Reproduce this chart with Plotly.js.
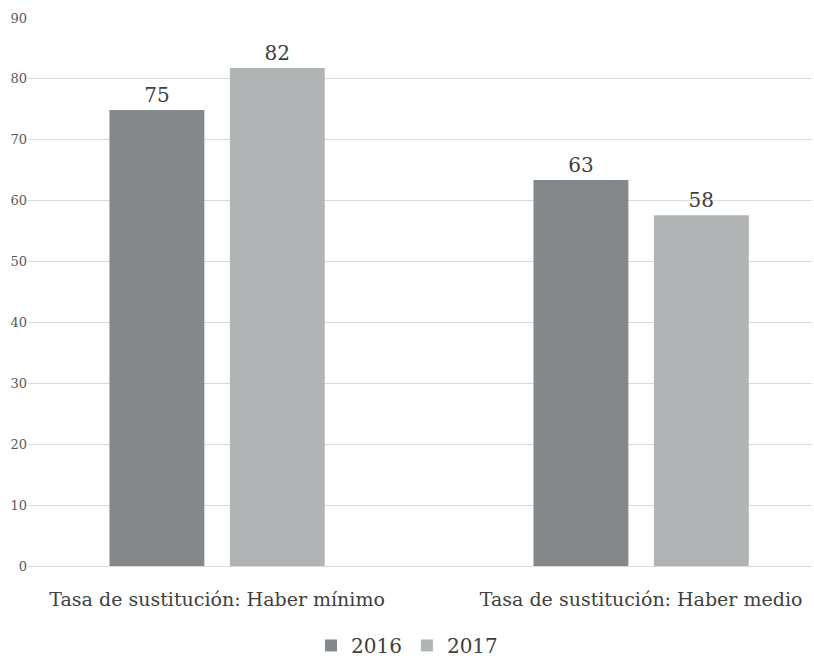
<!DOCTYPE html>
<html>
<head>
<meta charset="utf-8">
<script src="https://cdn.plot.ly/plotly-3.0.1.min.js"></script>
<style>html,body{margin:0;padding:0;background:#fff;}#chart{width:814px;height:661px;}</style>
</head>
<body>
<div id="chart"></div>
<script>
const categories = ["Tasa de sustitución: Haber mínimo", "Tasa de sustitución: Haber medio"];
const values2016 = [74.9, 63.4];
const values2017 = [81.8, 57.6];
const labels2016 = ["75", "63"];
const labels2017 = ["82", "58"];
const seriesNames = ["2016", "2017"];
const yTicks = [0, 10, 20, 30, 40, 50, 60, 70, 80, 90];

const font = "'DejaVu Serif', 'Liberation Serif', serif";
const traces = [
  {type: "bar", name: seriesNames[0], x: categories, y: values2016, text: labels2016,
   textposition: "outside", cliponaxis: false, marker: {color: "#85888b"},
   textfont: {family: font, size: 20, color: "#404040"}, hoverinfo: "none"},
  {type: "bar", name: seriesNames[1], x: categories, y: values2017, text: labels2017,
   textposition: "outside", cliponaxis: false, marker: {color: "#b1b4b5"},
   textfont: {family: font, size: 20, color: "#404040"}, hoverinfo: "none"}
];
const layout = {
  width: 814, height: 661,
  margin: {l: 28, r: 2, t: 18, b: 95, autoexpand: false},
  paper_bgcolor: "#fff", plot_bgcolor: "#fff",
  barmode: "group", bargap: 0.432, bargroupgap: 0.212,
  font: {family: font, color: "#404040"},
  showlegend: true,
  legend: {orientation: "h", x: 0.5, xref: "container", xanchor: "center", y: -0.145, yanchor: "middle",
           font: {family: font, size: 20, color: "#404040"}, traceorder: "normal"},
  xaxis: {type: "category", range: [-0.446, 1.403], showgrid: false, showline: false, automargin: false,
          ticks: "", ticklabelstandoff: 20, tickfont: {family: font, size: 19, color: "#404040"}},
  yaxis: {range: [0, 90], tickvals: yTicks, showgrid: true, gridcolor: "#d9d9d9", gridwidth: 1, automargin: false,
          zeroline: true, zerolinecolor: "#d9d9d9", zerolinewidth: 1, showline: false, ticks: "",
          tickfont: {family: font, size: 13, color: "#595959"}}
};
Plotly.newPlot("chart", traces, layout, {displayModeBar: false, staticPlot: true});
</script>
</body>
</html>
